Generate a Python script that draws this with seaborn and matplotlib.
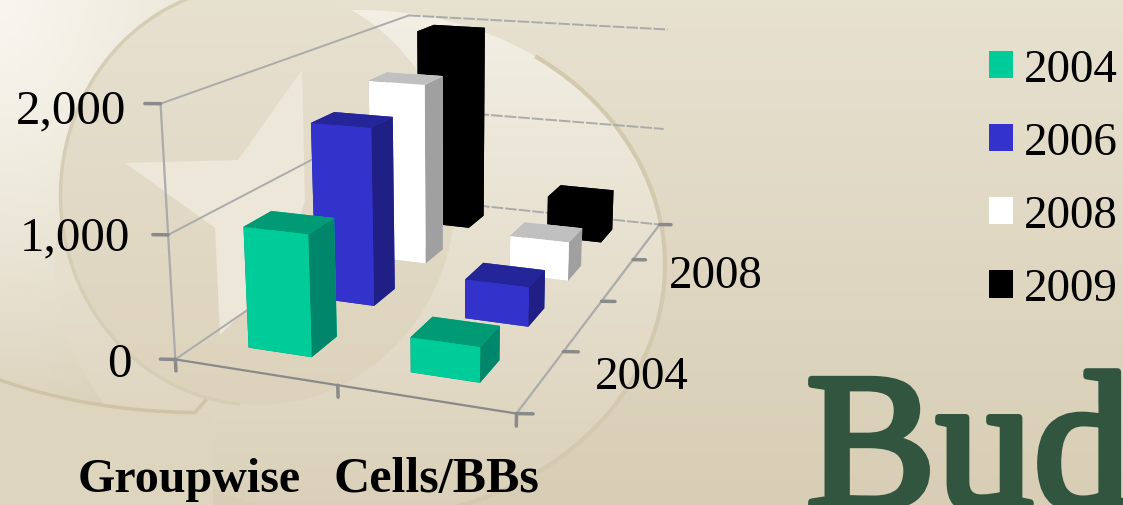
import numpy as np
import matplotlib
matplotlib.use("Agg")
import matplotlib.pyplot as plt
import matplotlib.patheffects as pe
from matplotlib.patches import Arc, Ellipse, Polygon, Patch
from matplotlib.colors import to_rgb
import seaborn as sns

groups = ["Groupwise", "Cells/BBs"]
years = ["2004", "2006", "2008", "2009"]
values_2004 = [990, 280]
values_2006 = [1550, 340]
values_2008 = [1690, 360]
values_2009 = [1970, 410]
zticks = [0, 1000, 2000]
ztick_labels = ["0", "1,000", "2,000"]
depth_labels = ["2004", "2008"]
series = [values_2004, values_2006, values_2008, values_2009]
front_cols = ["#00CC99", "#3333CC", "#FFFFFF", "#000000"]
top_cols = ["#009A74", "#25259A", "#C0C0C0", "#000000"]
side_cols = ["#00866A", "#1F1F85", "#A0A0A0", "#000000"]

sns.set_theme(style="white")
plt.rcParams["font.family"] = ["Liberation Serif", "DejaVu Serif"]
W, H = 1123, 505
fig = plt.figure(figsize=(W / 100, H / 100), dpi=100)


def rgb(c):
    return np.array(to_rgb(c))


def vgrad(c0, c1):
    t = np.linspace(0, 1, 200)[:, None, None]
    return rgb(c0)[None, None, :] * (1 - t) + rgb(c1)[None, None, :] * t


def grad_ellipse(axb, centre, w, h, c0, c1, z):
    e = Ellipse(centre, w, h, fc="none", ec="none", zorder=z)
    axb.add_patch(e)
    im = axb.imshow(vgrad(c0, c1), extent=[0, W, centre[1] + h / 2, centre[1] - h / 2], aspect="auto", zorder=z)
    im.set_clip_path(e)
    return e


# ---------- background decoration, in pixel coordinates
bg = fig.add_axes([0, 0, 1, 1], zorder=0)
bg.axis("off")
yy, xx = np.mgrid[0:1:120j, 0:1:220j]
img = rgb("#E7E1D0")[None, None, :] * (1 - yy[..., None]) + rgb("#D8CEB5")[None, None, :] * yy[..., None]
glow = np.clip(1 - np.hypot(xx / 0.26, yy / 0.85), 0, 1)[..., None]
img = img * (1 - glow) + rgb("#F8F6EF") * glow
bg.imshow(img, extent=[0, W, H, 0], aspect="auto", zorder=0)

# outer crescent, fading out towards the bottom
grad_ellipse(bg, (360, 265), 610, 510, "#F3EFE5", "#DAD0B8", 1)
bg.add_patch(Arc((360, 265), 610, 510, theta1=-50, theta2=105, ec="#D3C9AE", lw=3, zorder=1.5))
# darker ground under the swoosh at the lower left
arc_x = np.linspace(0, 213, 60)
arc_y = 170 + 242.5 * np.sqrt(1 - ((arc_x - 200) / 400) ** 2)
bg.add_patch(Polygon(np.column_stack([np.r_[arc_x, 213, 0], np.r_[arc_y, H, H]]), closed=True,
                     fc="#DED5BF", ec="none", zorder=1.7))
bg.plot(np.r_[arc_x[:-5], 213], np.r_[arc_y[:-5], 392], color="#CFC4A6", lw=2.5, zorder=1.8)
# inner disc
grad_ellipse(bg, (258, 195), 395, 420, "#E7E1D1", "#DDD3BC", 2)
bg.add_patch(Arc((258, 195), 395, 420, theta1=95, theta2=260, ec="#D6CDB5", lw=2.5, zorder=2.2))
star = [(302, 70), (238, 160), (125, 163), (215, 228), (220, 335), (285, 270), (305, 200)]
bg.add_patch(Polygon(star, closed=True, fc="#ECE7D9", ec="none", zorder=3))
bg.set_xlim(0, W); bg.set_ylim(H, 0)

# ---------- 3D chart
ax_px = 650
cx, cy = 443, 183
ax = fig.add_axes([(cx - ax_px / 2) / W, 1 - (cy + ax_px / 2) / H, ax_px / W, ax_px / H],
                  projection="3d", computed_zorder=False, zorder=1)
ax.patch.set_alpha(0)
ax.set_proj_type("persp", focal_length=0.38)
ax.view_init(elev=15, azim=-69.5)
ax.set_box_aspect((1.44, 2.5, 1.05))
nx, ny, zmax = len(groups), len(years), zticks[-1]
ax.set_xlim(0, nx, view_margin=0); ax.set_ylim(0, ny, view_margin=0); ax.set_zlim(0, zmax, view_margin=0)
ax.set_axis_off()

grid_c, tick_c = "#ABABAB", "#8A8A8A"
for z in zticks:
    ax.plot([0, 0], [0, ny], [z, z], color=grid_c, lw=1.4, zorder=1)
    ax.plot([0, nx], [ny, ny], [z, z], color=grid_c, lw=1.4, ls=(0, (6, 1)), zorder=1)
ax.plot([0, 0], [0, 0], [0, zmax], color=grid_c, lw=1.6, zorder=1)
ax.plot([0, nx], [0, 0], [0, 0], color=tick_c, lw=1.6, zorder=1)
ax.plot([nx, nx], [0, ny], [0, 0], color=grid_c, lw=1.6, zorder=1)
for z in zticks:
    ax.plot([0, -0.08], [0, -0.03], [z, z], color=tick_c, lw=2.5, zorder=1)
for x in range(nx + 1):
    ax.plot([x, x], [0, 0], [0, -95], color=tick_c, lw=2.5, zorder=1)
for y in range(ny + 1):
    ax.plot([nx, nx + 0.08], [y, y + 0.03], [0, 0], color=tick_c, lw=2.5, zorder=1)

bw, bd, shift = 0.40, 0.38, 0.03
order = 10
for i in range(nx):
    for j in range(ny - 1, -1, -1):
        v = series[j][i]
        cols = [top_cols[j], top_cols[j], front_cols[j], front_cols[j], side_cols[j], side_cols[j]]
        ax.bar3d(i + 0.5 - bw / 2, j + 0.5 - bd / 2 + shift, 0, bw, bd, v, color=cols, shade=False,
                 linewidth=0, zorder=order)
        order += 1


# ---------- text in pixel positions
def ptxt(x, y, s, size_px, **kw):
    return fig.text(x / W, 1 - y / H, s, fontsize=size_px * 0.72, color=kw.pop("color", "black"), **kw)


for lab, xp, yp in zip(ztick_labels, [132, 130, 126], [365, 238, 111]):
    ptxt(xp, yp, lab, 49, ha="right", va="center")
ptxt(689, 378, depth_labels[0], 47, ha="right", va="center")
ptxt(763, 277, depth_labels[1], 47, ha="right", va="center")
ptxt(189, 480, groups[0], 48, ha="center", va="center", fontweight="bold")
ptxt(436, 480, groups[1], 50, ha="center", va="center", fontweight="bold")
bud = ptxt(806, 507, "Bud", 195, ha="left", va="baseline", color="#31553F")
bud.set_path_effects([pe.withStroke(linewidth=5, foreground="#31553F")])

handles = [Patch(facecolor=c, edgecolor="none", label=y) for c, y in zip(front_cols, years)]
fig.legend(handles=handles, loc="upper left", bbox_to_anchor=(989 / W, 1 - 49 / H), frameon=False,
           fontsize=47 * 0.72, handlelength=0.51, handleheight=0.51, handletextpad=0.24,
           labelspacing=0.65, borderpad=0, borderaxespad=0, labelcolor="black")

fig.savefig("out.png", dpi=100)
